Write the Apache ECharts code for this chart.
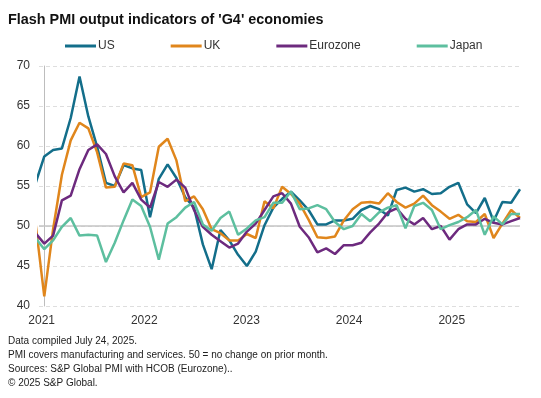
<!DOCTYPE html>
<html>
<head>
<meta charset="utf-8">
<script src="https://cdn.jsdelivr.net/npm/echarts@6/dist/echarts.min.js"></script>
<style>
  html, body { margin: 0; padding: 0; background: #fff; }
  #chart { width: 541px; height: 398px; }
</style>
</head>
<body>
<div id="chart"></div>
<script>
// months from Dec 2020 to Jul 2025, x value = months since Jan 2021
const months = []
for (let y = 2020; y <= 2025; y++) {
  for (let mo = 1; mo <= 12; mo++) {
    if (y === 2020 && mo < 12) continue
    if (y === 2025 && mo > 7) continue
    months.push(y + '-' + String(mo).padStart(2, '0'))
  }
}

const us = [55.3,
  58.7, 59.5, 59.7, 63.5, 68.7, 63.7, 59.9, 55.4, 55.0, 57.6, 57.2, 57.0,
  51.1, 55.9, 57.7, 56.0, 53.6, 52.3, 47.7, 44.6, 49.5, 48.2, 46.4, 45.0,
  46.8, 50.1, 52.3, 53.4, 54.3, 53.2, 52.0, 50.2, 50.2, 50.7, 50.7, 50.9,
  52.0, 52.5, 52.1, 51.3, 54.5, 54.8, 54.3, 54.6, 54.0, 54.1, 54.9, 55.4,
  52.7, 51.6, 53.5, 50.6, 53.0, 52.9, 54.6]
const uk = [50.4,
  41.2, 49.6, 56.4, 60.7, 62.9, 62.2, 59.2, 54.8, 54.9, 57.8, 57.6, 53.6,
  54.2, 59.9, 60.9, 58.2, 53.1, 53.7, 52.1, 49.6, 49.1, 48.2, 48.2, 49.0,
  48.5, 53.1, 52.2, 54.9, 54.0, 52.8, 50.8, 48.6, 48.5, 48.7, 50.7, 52.1,
  52.9, 53.0, 52.8, 54.1, 53.0, 52.3, 52.8, 53.8, 52.6, 51.8, 50.9, 51.4,
  50.6, 50.5, 51.5, 48.5, 50.3, 52.0, 51.0]
const eurozone = [49.1,
  47.8, 48.8, 53.2, 53.8, 57.1, 59.5, 60.2, 59.0, 56.2, 54.2, 55.4, 53.3,
  52.3, 55.5, 54.9, 55.8, 54.8, 52.0, 49.9, 48.9, 48.1, 47.3, 47.8, 49.3,
  50.3, 52.0, 53.7, 54.1, 52.8, 49.9, 48.6, 46.7, 47.2, 46.5, 47.6, 47.6,
  47.9, 49.2, 50.3, 51.7, 52.2, 50.9, 50.2, 51.0, 49.6, 50.0, 48.3, 49.6,
  50.2, 50.2, 50.9, 50.4, 50.2, 50.6, 51.0]
const japan = [48.5,
  47.1, 48.2, 49.9, 51.0, 48.8, 48.9, 48.8, 45.5, 47.9, 50.7, 53.3, 52.5,
  49.9, 45.8, 50.3, 51.1, 52.3, 53.0, 50.2, 49.4, 51.0, 51.8, 48.9, 49.7,
  50.7, 51.1, 52.9, 52.9, 54.3, 52.1, 52.2, 52.6, 52.1, 50.5, 49.6, 50.0,
  51.5, 50.6, 51.7, 52.3, 52.6, 49.7, 52.5, 52.9, 52.0, 49.6, 50.1, 50.5,
  51.1, 52.0, 48.9, 51.2, 50.2, 51.5, 51.5]

const yearLabels = ['2021', '2022', '2023', '2024', '2025']
const yearLabelPos = [-0.3, 11.35, 22.95, 34.6, 46.25]

const seriesNames = ['US', 'UK', 'Eurozone', 'Japan']
const seriesValues = [us, uk, eurozone, japan]
const colors = ['#136e8a', '#e0861c', '#6d2a7e', '#5dbf9f']

const footnotes = [
  'Data compiled July 24, 2025.',
  'PMI covers manufacturing and services. 50 = no change on prior month.',
  'Sources: S&P Global PMI with HCOB (Eurozone)..',
  '\u00a9 2025 S&P Global.'
]

function toPoints(vals) {
  return vals.map((v, i) => [i - 1, v])
}

const font = 'Liberation Sans, Arial, sans-serif'

const series = seriesNames.map((name, k) => {
  const s = {
    name: name,
    type: 'line',
    data: toPoints(seriesValues[k]),
    symbol: 'none',
    clip: true,
    lineStyle: { width: 2.5, color: colors[k] },
    itemStyle: { color: colors[k] },
    z: 3
  }
  if (k === 0) {
    s.markLine = {
      silent: true,
      symbol: 'none',
      label: { show: false },
      lineStyle: { color: '#c4c4c4', type: 'solid', width: 1.5 },
      data: [{ yAxis: 50 }],
      z: 1
    }
  }
  return s
})

const chart = echarts.init(document.getElementById('chart'))
chart.setOption({
  animation: false,
  backgroundColor: '#fff',
  title: {
    text: "Flash PMI output indicators of 'G4' economies",
    left: 8,
    top: 13,
    padding: 0,
    textStyle: { fontFamily: font, fontSize: 14.4, fontWeight: 'bold', color: '#111' }
  },
  legend: {
    data: seriesNames,
    left: 65,
    top: 40,
    padding: 0,
    icon: 'rect',
    itemWidth: 31,
    itemHeight: 3,
    itemGap: 56,
    textStyle: { fontFamily: font, fontSize: 12, color: '#333', padding: [0, 0, 0, -3] }
  },
  grid: { left: 39, right: 21, top: 66, bottom: 92, containLabel: false },
  xAxis: {
    type: 'value',
    min: -0.6,
    max: 54,
    axisLine: { show: false },
    axisTick: { show: false },
    splitLine: { show: false },
    axisLabel: {
      customValues: yearLabelPos,
      formatter: function (v) {
        const idx = yearLabelPos.indexOf(v)
        return idx >= 0 ? yearLabels[idx] : ''
      },
      fontFamily: font,
      fontSize: 12,
      color: '#333',
      margin: 9
    }
  },
  yAxis: {
    type: 'value',
    min: 40,
    max: 70,
    interval: 5,
    axisLine: { show: true, lineStyle: { color: '#bdbdbd', width: 1 } },
    axisTick: { show: false },
    axisLabel: { fontFamily: font, fontSize: 12, color: '#333', margin: 9 },
    splitLine: { show: true, lineStyle: { color: '#dedede', type: [4, 3], width: 1 } }
  },
  graphic: footnotes.map((t, i) => ({
    type: 'text',
    left: 8,
    top: 336 + i * 14,
    style: { text: t, font: '10px ' + font, fill: '#222' }
  })),
  series: series
})
</script>
</body>
</html>
